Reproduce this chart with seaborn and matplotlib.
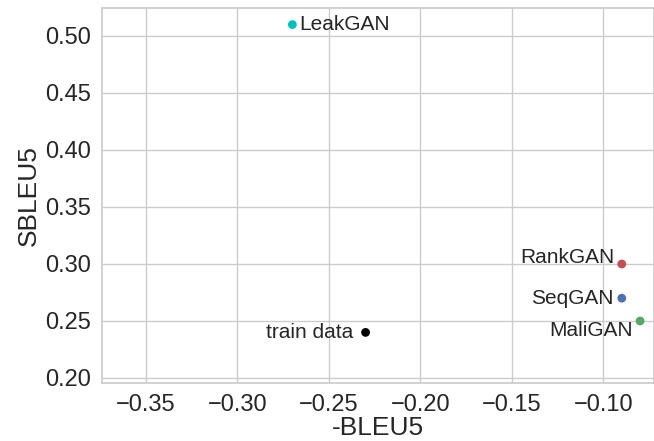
import matplotlib
matplotlib.use("Agg")
import matplotlib.pyplot as plt
import seaborn as sns
import pandas as pd

# Quality (-BLEU5) vs diversity (SBLEU5) of text generation models
models = ["LeakGAN", "RankGAN", "SeqGAN", "MaliGAN", "train data"]
neg_bleu5 = [-0.27, -0.09, -0.09, -0.08, -0.23]
sbleu5 = [0.51, 0.30, 0.27, 0.25, 0.24]
colors = ["#00BFBF", "#C44E52", "#4C72B0", "#55A868", "#000000"]

sns.set_theme(style="whitegrid")
plt.rcParams["font.family"] = ["Liberation Sans", "DejaVu Sans"]

df = pd.DataFrame({"model": models, "-BLEU5": neg_bleu5, "SBLEU5": sbleu5})

fig = plt.figure(figsize=(6.54, 4.41), dpi=100)
ax = fig.add_axes([0.156, 0.1315, 0.844, 0.8505])

sns.scatterplot(data=df, x="-BLEU5", y="SBLEU5", hue="model",
                palette=dict(zip(models, colors)), s=40, linewidth=0,
                legend=False, ax=ax, zorder=3)

# label placement per point: (dx, dy) in points and horizontal alignment
offsets = {
    "LeakGAN": ((5, 0), "left"),
    "RankGAN": ((-5, 5), "right"),
    "SeqGAN": ((-6, 0), "right"),
    "MaliGAN": ((-5, -7), "right"),
    "train data": ((-9, 0), "right"),
}
for name, x, y in zip(models, neg_bleu5, sbleu5):
    (dx, dy), ha = offsets[name]
    ax.annotate(name, (x, y), xytext=(dx, dy), textcoords="offset points",
                ha=ha, va="center", fontsize=15, color="#262626")

ax.set_xlim(-0.374, -0.0724)
ax.set_ylim(0.1956, 0.5246)
ax.set_xticks([-0.35, -0.30, -0.25, -0.20, -0.15, -0.10])
ax.set_yticks([0.20, 0.25, 0.30, 0.35, 0.40, 0.45, 0.50])
ax.set_xticklabels(["\u22120.35", "\u22120.30", "\u22120.25", "\u22120.20", "\u22120.15", "\u22120.10"])
ax.set_yticklabels(["0.20", "0.25", "0.30", "0.35", "0.40", "0.45", "0.50"])
ax.tick_params(labelsize=17, colors="#262626", pad=2)
ax.set_xlabel("-BLEU5", fontsize=19, color="#262626", labelpad=0)
ax.set_ylabel("SBLEU5", fontsize=19, color="#262626", labelpad=3)

fig.savefig("out.png", dpi=100)
